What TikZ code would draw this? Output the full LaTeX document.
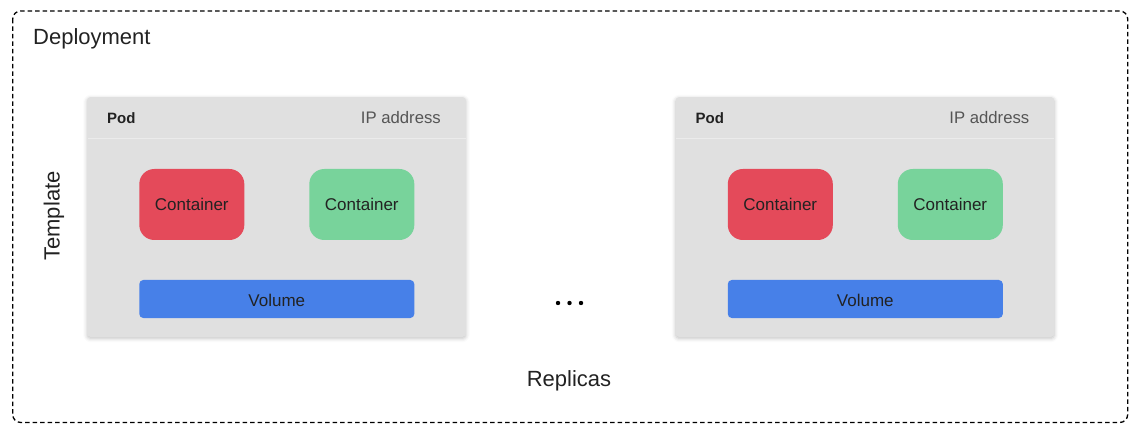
\documentclass[tikz,border=0pt]{standalone}
\usepackage{fontspec}
\setmainfont{Liberation Sans}
\usetikzlibrary{shadows.blur}

\definecolor{podgray}{HTML}{E0E0E0}
\definecolor{podline}{HTML}{EBEBEB}
\definecolor{boxred}{HTML}{E44A5A}
\definecolor{boxgreen}{HTML}{78D39B}
\definecolor{boxblue}{HTML}{4780E8}
\definecolor{inktext}{HTML}{222222}
\definecolor{iptext}{HTML}{555555}

\begin{document}
\begin{tikzpicture}[x=1pt, y=-1pt,
    pod/.style={fill=podgray, rounded corners=3pt, inner sep=0pt,
        minimum width=378.5pt, minimum height=239.5pt,
        blur shadow={shadow xshift=0pt, shadow yshift=-1.5pt,
            shadow blur radius=4pt, shadow opacity=25}},
    container/.style={rounded corners=15pt, inner sep=0pt,
        minimum width=105pt, minimum height=71pt,
        text=inktext, font=\fontsize{17}{20}\selectfont},
    volume/.style={fill=boxblue, rounded corners=4pt, inner sep=0pt,
        minimum width=275pt, minimum height=38pt, text height=15.4pt,
        text=inktext, font=\fontsize{17}{20}\selectfont},
    label/.style={text=inktext, font=\fontsize{22}{26}\selectfont, inner sep=0pt}]

    \useasboundingbox (0,0) rectangle (1140,438);

    % Deployment frame
    \draw[dashed, dash pattern=on 4.5pt off 3pt, line width=1.3pt, rounded corners=8pt]
        (12.7,11) rectangle (1127.7,422.5);
    \node[label, anchor=base west] (deploy) at (33,44.5) {Deployment};

    % Pods
    \foreach \i/\dx in {1/0, 2/588.5} {
        \node[pod] (pod\i) at (276.5+\dx,217) {};
        \draw[podline, line width=1pt] (87.5+\dx,138.3) -- (465.5+\dx,138.3);
        \node[anchor=base west, inner sep=0pt, text=inktext,
            font=\fontsize{15}{18}\selectfont\bfseries] (podname\i) at (107+\dx,124) {Pod};
        \node[anchor=base east, inner sep=0pt, text=iptext,
            font=\fontsize{16.7}{20}\selectfont] (ip\i) at (441+\dx,124) {IP address};
        \node[container, fill=boxred] (red\i) at (191.8+\dx,204.5) {Container};
        \node[container, fill=boxgreen] (green\i) at (361.8+\dx,204.5) {Container};
        \node[volume] (vol\i) at (276.8+\dx,299) {Volume};
    }

    % Ellipsis between replicas
    \foreach \x in {558,569.5,581}
        \fill[black] (\x,303) circle (2.2);

    % Labels
    \node[label, anchor=base] (replicas) at (569,386.7) {Replicas};
    \node[label, anchor=base, rotate=90] (template) at (59.5,216) {Template};

\end{tikzpicture}
\end{document}
